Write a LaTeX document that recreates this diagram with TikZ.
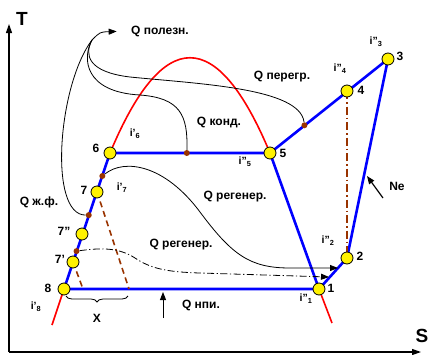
\documentclass[tikz,border=0pt]{standalone}
\usepackage{fontspec}
\setmainfont{Liberation Sans}
\usetikzlibrary{arrows.meta, calc, decorations.pathreplacing}
\definecolor{burnt}{RGB}{153,51,0}

\begin{document}
\begin{tikzpicture}[x=1pt, y=-1pt,
    lbl/.style={font=\fontsize{12}{14}\selectfont\bfseries},
    idx/.style={font=\fontsize{10.5}{12}\selectfont\bfseries},
    state/.style={circle, draw=black, fill=yellow, line width=0.8pt, inner sep=0pt, minimum size=12pt},
    bdot/.style={circle, fill=burnt, inner sep=0pt, minimum size=6pt},
    cycle line/.style={blue, line width=2.6pt},
    sat line/.style={red, line width=1.6pt},
    heat/.style={black, line width=0.8pt},
    heat arrow/.style={heat, -{Triangle[length=8pt, width=6pt]}},
    proj/.style={burnt, line width=1.6pt, dash pattern=on 6pt off 4pt},
    axis/.style={black, line width=1.2pt, -{Triangle[length=9pt, width=6pt]}},
  ]
    \useasboundingbox (0,0) rectangle (429,354);

    % Оси
    \coordinate (o) at (9,352);
    \coordinate (ty) at (9,24);
    \coordinate (sx) at (421,352);
    \draw[axis] (o) -- (ty);
    \draw[axis] (o) -- (sx);
    \node[font=\fontsize{19}{21}\selectfont\bfseries] (tlab) at (22,19) {T};
    \node[font=\fontsize{19}{21}\selectfont\bfseries] (slab) at (422,336) {S};

    % Точки цикла
    \coordinate (s1) at (319,289);
    \coordinate (s2) at (347,258);
    \coordinate (s3) at (388,59);
    \coordinate (s4) at (347,91);
    \coordinate (s5) at (270,153);
    \coordinate (s6) at (110,153);
    \coordinate (s7) at (97,192);
    \coordinate (s7b) at (82,234);
    \coordinate (s7a) at (73,262);
    \coordinate (s8) at (64,289);

    % Пограничная кривая (красная)
    \coordinate (w0) at (52,325);
    \coordinate (w1) at (332,323);
    \draw[sat line] (w0) -- (s8);
    \draw[sat line] (s6) .. controls (163,26) and (217,26) .. (s5);
    \draw[sat line] (s1) -- (w1);

    % Цикл (синий)
    \draw[cycle line, line join=round] (s8) -- (s6) -- (s5) -- (s3) -- (s2) -- (s1) -- cycle;
    \draw[cycle line] (s5) -- (s1);

    % Проекции (коричневые)
    \coordinate (x7a) at (83,289);
    \coordinate (x7) at (129,289);
    \draw[proj] (s7a) -- (x7a);
    \draw[proj] (s7) -- (x7);
    \draw[burnt, line width=1.6pt, dash pattern=on 8pt off 3pt on 1.5pt off 3pt] (s4) -- (s2);

    % Точки отбора тепла
    \node[bdot] (d65) at ($(s6)!0.48!(s5)$) {};
    \node[bdot] (d54) at ($(s5)!0.447!(s4)$) {};
    \node[bdot] (d76) at ($(s7)!0.41!(s6)$) {};
    \node[bdot] (d77) at ($(s7b)!0.45!(s7)$) {};
    \node[bdot] (d7a) at ($(s7a)!0.39!(s7b)$) {};

    % Состояния
    \foreach \p in {1,2,3,4,5,6,7,7b,7a,8}
      \node[state] (n\p) at (s\p) {};

    % Подписи
    \node[lbl] (qpol) at (160,31) {Q полезн.};
    \node[lbl] (qper) at (282,77) {Q перегр.};
    \node[lbl] (qkond) at (219,123) {Q конд.};
    \node[lbl] (qreg1) at (235,197) {Q регенер.};
    \node[lbl] (qreg2) at (181,245) {Q регенер.};
    \node[lbl] (qzf) at (39,202) {Q ж.ф.};
    \node[lbl] (qnpi) at (201,305) {Q нпи.};
    \node[lbl] (ne) at (397,186) {Ne};
    \node[lbl] (xlab) at (97,318) {X};

    \node[lbl] (l8) at (48,288) {8};
    \node[lbl] (l7a) at (60,259) {7'};
    \node[lbl] (l7b) at (64,231) {7''};
    \node[lbl] (l7) at (84,190) {7};
    \node[lbl] (l6) at (96,148) {6};
    \node[lbl] (l5) at (283,153) {5};
    \node[lbl] (l4) at (361,90) {4};
    \node[lbl] (l3) at (400,56) {3};
    \node[lbl] (l2) at (360,256) {2};
    \node[lbl] (l1) at (331,288) {1};

    \node[idx] (i6) at (135,134) {i'\textsubscript{6}};
    \node[idx] (i5) at (245,162) {i''\textsubscript{5}};
    \node[idx] (i7) at (122,188) {i'\textsubscript{7}};
    \node[idx] (i4) at (340,69) {i''\textsubscript{4}};
    \node[idx] (i3) at (376,42) {i''\textsubscript{3}};
    \node[idx] (i2) at (328,241) {i''\textsubscript{2}};
    \node[idx] (i1) at (306,299) {i''\textsubscript{1}};
    \node[idx] (i8) at (36,307) {i'\textsubscript{8}};

    % Тепловые потоки
    \coordinate (hub) at (92,40);
    \draw[heat arrow, shorten >=11pt] (d77) .. controls (48,215) and (58,85) .. (hub)
      .. controls (100,32) .. (qpol.west);
    \draw[heat] (hub) .. controls (82,58) and (84,92) .. (140,95)
      .. controls (180,98) and (188,115) .. (d65);
    \draw[heat] (hub) .. controls (84,55) and (88,72) .. (130,77)
      .. controls (200,84) and (300,88) .. (d54);

    \coordinate (r1) at (338,268);
    \coordinate (r2) at (329,277);
    \draw[heat arrow] (d76) .. controls (125,158) and (165,165) .. (200,212)
      .. controls (232,255) and (250,268) .. (290,268) -- (r1);
    \draw[heat arrow, dash pattern=on 7pt off 2.5pt on 1.2pt off 2.5pt] (d7a)
      .. controls (100,248) and (118,247) .. (135,258)
      .. controls (150,268) and (165,272) .. (200,273) -- (r2);

    % Подвод тепла и работа
    \coordinate (npi0) at (163,318);
    \coordinate (npi1) at (163,292);
    \draw[heat arrow, line width=1pt] (npi0) -- (npi1);
    \coordinate (ne0) at (383,198);
    \coordinate (ne1) at (367,176);
    \draw[heat arrow, line width=1.2pt] (ne0) -- (ne1);

    % Скобка X
    \draw[heat, decorate, decoration={brace, amplitude=6pt, mirror}] (66,296) -- (128,296);
  \end{tikzpicture}
\end{document}
